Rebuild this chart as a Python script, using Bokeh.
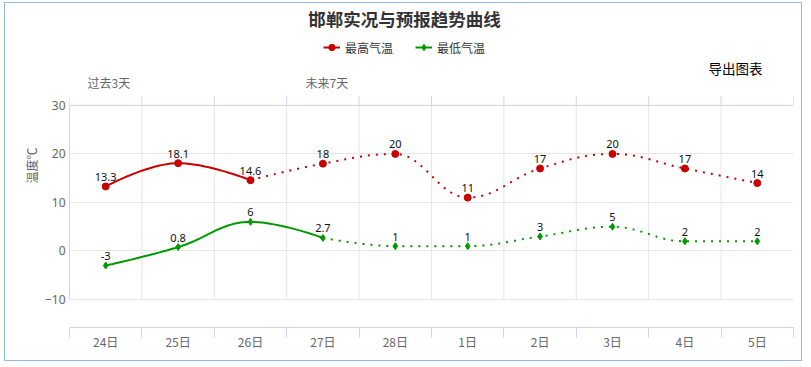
from bokeh.plotting import figure
from bokeh.models import (Range1d, FixedTicker, Label, Legend, LegendItem)
from bokeh.embed import file_html
from bokeh.resources import INLINE
from bokeh.core.properties import value

# ---------------- data ----------------
title_text = "邯郸实况与预报趋势曲线"
days = ["24日", "25日", "26日", "27日", "28日", "1日", "2日", "3日", "4日", "5日"]
high = [13.3, 18.1, 14.6, 18, 20, 11, 17, 20, 17, 14]
low = [-3, 0.8, 6, 2.7, 1, 1, 3, 5, 2, 2]
high_last_observed = 2   # index of last observed max temperature
low_last_observed = 3    # index of last observed min temperature
y_ticks = [-10, 0, 10, 20, 30]
series_names = ["最高气温", "最低气温"]
y_title = "温度℃"
band_labels = ["过去3天", "未来7天"]
export_text = "导出图表"

RED = "#c80000"
GREEN = "#009a00"
AXIS = "#ccd6eb"
GRID = "#e6e6e6"
LABEL = "#666666"
CJK = "Noto Sans CJK SC"

# ---------------- geometry (pixels) ----------------
W, H = 798, 359
FRAME_L, FRAME_R = 64, 788          # canvas px
FRAME_T, FRAME_B = 0, 324.3
Y_TOP_PX, Y_BOT_PX = 102, 296.3     # canvas px of y=30 and y=-10
PX_PER_UNIT = (Y_BOT_PX - Y_TOP_PX) / (max(y_ticks) - min(y_ticks))
y_end = max(y_ticks) + (Y_TOP_PX - FRAME_T) / PX_PER_UNIT
y_start = min(y_ticks) - (FRAME_B - Y_BOT_PX) / PX_PER_UNIT


def hc_spline(xs, ys, steps=24):
    """Highcharts-style spline: returns sampled x, y of the cubic beziers."""
    n = len(xs)
    lc, rc = [], []
    sm = 1.5
    den = sm + 1
    for i in range(n):
        x, y = xs[i], ys[i]
        if 0 < i < n - 1:
            lx, ly = xs[i - 1], ys[i - 1]
            nx, ny = xs[i + 1], ys[i + 1]
            lcx = (sm * x + lx) / den
            lcy = (sm * y + ly) / den
            rcx = (sm * x + nx) / den
            rcy = (sm * y + ny) / den
            if rcx != lcx:
                corr = (rcy - lcy) * (rcx - x) / (rcx - lcx) + y - rcy
                lcy += corr
                rcy += corr
                if lcy > ly and lcy > y:
                    lcy = max(ly, y)
                    rcy = 2 * y - lcy
                elif lcy < ly and lcy < y:
                    lcy = min(ly, y)
                    rcy = 2 * y - lcy
                if rcy > ny and rcy > y:
                    rcy = max(ny, y)
                    lcy = 2 * y - rcy
                elif rcy < ny and rcy < y:
                    rcy = min(ny, y)
                    lcy = 2 * y - rcy
            lc.append((lcx, lcy))
            rc.append((rcx, rcy))
        else:
            lc.append((x, y))
            rc.append((x, y))
    ox, oy = [xs[0]], [ys[0]]
    for i in range(1, n):
        p0 = (xs[i - 1], ys[i - 1])
        c1 = rc[i - 1]
        c2 = lc[i]
        p3 = (xs[i], ys[i])
        for k in range(1, steps + 1):
            t = k / steps
            a = (1 - t) ** 3
            b = 3 * (1 - t) ** 2 * t
            c = 3 * (1 - t) * t ** 2
            d = t ** 3
            ox.append(a * p0[0] + b * c1[0] + c * c2[0] + d * p3[0])
            oy.append(a * p0[1] + b * c1[1] + c * c2[1] + d * p3[1])
    return ox, oy


n = len(days)
xc = list(range(n))
bounds = [i - 0.5 for i in range(n + 1)]

p = figure(width=W, height=H,
           x_range=Range1d(-0.5, n - 0.5), y_range=Range1d(y_start, y_end),
           output_backend="svg", toolbar_location=None,
           min_border_left=FRAME_L, min_border_right=W - FRAME_R,
           min_border_top=0, min_border_bottom=round(H - FRAME_B))
p.styles = {"position": "relative", "left": "4px", "top": "2px",
            "border": "1px solid #8dbaea"}
p.outline_line_color = None
p.background_fill_color = "white"
p.border_fill_color = "white"

# grid
p.xgrid.visible = False
p.ygrid.ticker = FixedTicker(ticks=y_ticks)
p.ygrid.grid_line_color = GRID
ymin, ymax = min(y_ticks), max(y_ticks)
p.segment(x0=bounds[1:-1], y0=[ymin] * (n - 1), x1=bounds[1:-1], y1=[ymax] * (n - 1),
          line_color=GRID, line_width=1)
# top axis line with upward ticks at the category boundaries
tick_up = 9 / PX_PER_UNIT
p.segment(x0=[bounds[0]], y0=[ymax], x1=[bounds[-1]], y1=[ymax], line_color=AXIS, line_width=1)
p.segment(x0=bounds, y0=[ymax] * (n + 1), x1=bounds, y1=[ymax + tick_up] * (n + 1),
          line_color=AXIS, line_width=1)

# bottom axis
xa = p.xaxis[0]
xa.ticker = FixedTicker(ticks=xc, minor_ticks=bounds)
xa.major_label_overrides = {i: d for i, d in enumerate(days)}
xa.major_tick_line_color = None
xa.major_tick_out = 0
xa.major_tick_in = 0
xa.minor_tick_line_color = AXIS
xa.minor_tick_out = 10
xa.minor_tick_in = 0
xa.axis_line_color = AXIS
xa.major_label_text_color = LABEL
xa.major_label_text_font = CJK
xa.major_label_text_font_size = "12px"
xa.major_label_standoff = -5

# y axis
ya = p.yaxis[0]
ya.ticker = FixedTicker(ticks=y_ticks)
ya.bounds = (ymin, ymax)
ya.axis_line_color = AXIS
ya.major_tick_line_color = None
ya.minor_tick_line_color = None
ya.major_tick_out = 0
ya.major_label_standoff = 4
ya.major_label_text_color = LABEL
ya.major_label_text_font = "Noto Sans"
ya.major_label_text_font_size = "12px"
ya.axis_label = y_title
ya.axis_label_text_font = CJK
ya.axis_label_text_font_style = "normal"
ya.axis_label_text_font_size = "12px"
ya.axis_label_text_color = LABEL
ya.axis_label_standoff = 2

# series
label_lift = 9.5 / PX_PER_UNIT


def draw(vals, last_obs, color, marker, msize):
    sx, sy = hc_spline(xc[:last_obs + 1], vals[:last_obs + 1])
    r_solid = p.line(sx, sy, line_color=color, line_width=2)
    dx, dy = hc_spline(xc[last_obs:], vals[last_obs:])
    p.line(dx, dy, line_color=color, line_width=2, line_dash="2 6")
    r_pts = p.scatter(xc, vals, marker=marker, size=msize, fill_color=color, line_color=color)
    p.text(xc, [v + label_lift for v in vals], text=[f"{v:g}" for v in vals],
           text_align="center", text_baseline="middle",
           text_font=value("Noto Sans"), text_font_size="11px", text_color="#111111")
    return r_solid, r_pts


h_line, h_pts = draw(high, high_last_observed, RED, "circle", 7)
l_line, l_pts = draw(low, low_last_observed, GREEN, "diamond", 7)

# texts: screen units relative to the frame's bottom-left corner; page y -> frame y
PAGE_Y0, PAGE_X0 = 3, 5
FB = PAGE_Y0 + FRAME_B
FL = PAGE_X0 + FRAME_L

legend = Legend(items=[LegendItem(label=series_names[0], renderers=[h_line, h_pts]),
                       LegendItem(label=series_names[1], renderers=[l_line, l_pts])],
                orientation="horizontal", location=(323 - FL, FB - 56),
                background_fill_alpha=0, border_line_color=None,
                padding=0, margin=0, spacing=22, glyph_width=17, glyph_height=16,
                label_height=16, label_standoff=5,
                label_text_font=CJK, label_text_font_size="12px", label_text_color="#333333")
p.add_layout(legend)

p.add_layout(Label(x=404 - FL, y=FB - 18.5, x_units="screen", y_units="screen", text=title_text,
                   text_align="center", text_baseline="middle", text_font=CJK,
                   text_font_size="17.5px", text_font_style="bold", text_color="#333333"))
p.add_layout(Label(x=735 - FL, y=FB - 68, x_units="screen", y_units="screen", text=export_text,
                   text_align="center", text_baseline="middle", text_font=CJK,
                   text_font_size="13.5px", text_color="#000000"))
p.add_layout(Label(x=87 - FL, y=FB - 82.5, x_units="screen", y_units="screen", text=band_labels[0],
                   text_align="left", text_baseline="middle", text_font=CJK,
                   text_font_size="12px", text_color=LABEL))
p.add_layout(Label(x=305 - FL, y=FB - 82.5, x_units="screen", y_units="screen", text=band_labels[1],
                   text_align="left", text_baseline="middle", text_font=CJK,
                   text_font_size="12px", text_color=LABEL))

open("out.html", "w").write(file_html(p, INLINE))
